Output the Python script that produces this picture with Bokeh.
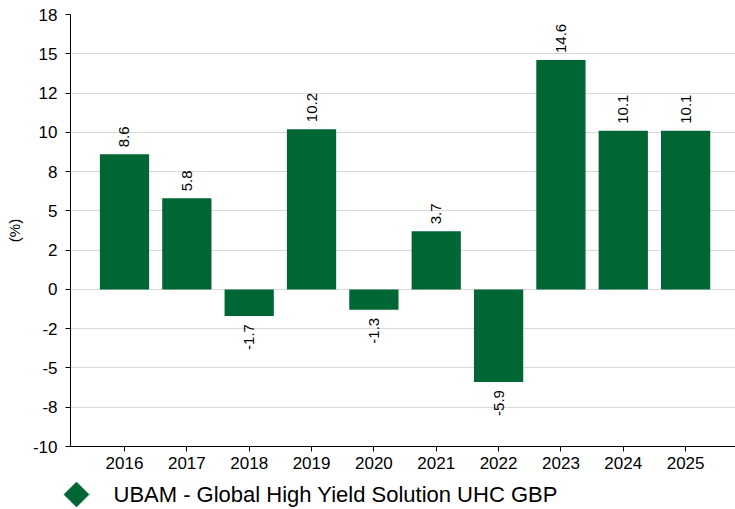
import math
from bokeh.plotting import figure
from bokeh.layouts import column
from bokeh.models import Range1d, FixedTicker, ColumnDataSource
from bokeh.core.properties import value
from bokeh.embed import file_html
from bokeh.resources import INLINE

years = ["2016", "2017", "2018", "2019", "2020", "2021", "2022", "2023", "2024", "2025"]
returns = [8.6, 5.8, -1.7, 10.2, -1.3, 3.7, -5.9, 14.6, 10.1, 10.1]
ytick_values = [17.5, 15, 12.5, 10, 7.5, 5, 2.5, 0, -2.5, -5, -7.5, -10]
ytick_labels = ["18", "15", "12", "10", "8", "5", "2", "0", "-2", "-5", "-8", "-10"]
series_name = "UBAM - Global High Yield Solution UHC GBP"
y_label = "(%)"

GREEN = "#006633"
FONT = "Liberation Sans"

idx = list(range(len(years)))

p = figure(width=735, height=478, output_backend="svg", toolbar_location=None,
           x_range=Range1d(-0.866, len(years) - 1 + 0.80),
           y_range=Range1d(min(ytick_values), max(ytick_values)),
           min_border_left=70, min_border_right=0, min_border_top=14, min_border_bottom=32)
p.outline_line_color = None

p.vbar(x=idx, top=returns, bottom=0, width=0.79, color=GREEN, line_color=None)

pos = ColumnDataSource(dict(x=[i for i, v in zip(idx, returns) if v >= 0],
                            y=[v for v in returns if v >= 0],
                            t=[f"{v:.1f}" for v in returns if v >= 0]))
neg = ColumnDataSource(dict(x=[i for i, v in zip(idx, returns) if v < 0],
                            y=[v for v in returns if v < 0],
                            t=[f"{v:.1f}" for v in returns if v < 0]))
p.text(x="x", y="y", text="t", source=pos, angle=math.pi / 2, text_align="left",
       text_baseline="middle", y_offset=-7, text_font=value(FONT), text_font_size="15px",
       text_color="#000000")
p.text(x="x", y="y", text="t", source=neg, angle=math.pi / 2, text_align="right",
       text_baseline="middle", y_offset=8, text_font=value(FONT), text_font_size="15px",
       text_color="#000000")

# axes
p.xaxis.ticker = FixedTicker(ticks=idx)
p.xaxis.major_label_overrides = {i: y for i, y in zip(idx, years)}
p.yaxis.ticker = FixedTicker(ticks=ytick_values)
p.yaxis.major_label_overrides = {v: l for v, l in zip(ytick_values, ytick_labels)}
for ax in (p.xaxis, p.yaxis):
    ax.axis_line_color = "#000000"
    ax.major_tick_line_color = "#000000"
    ax.major_tick_out = 5
    ax.major_tick_in = 0
    ax.minor_tick_line_color = None
    ax.major_label_text_font = FONT
    ax.major_label_text_font_size = "17px"
    ax.major_label_text_color = "#000000"
p.xaxis.major_label_standoff = 5
p.yaxis.major_label_standoff = 8
p.yaxis.axis_label = y_label
p.yaxis.axis_label_text_font = FONT
p.yaxis.axis_label_text_font_size = "15px"
p.yaxis.axis_label_text_font_style = "normal"
p.yaxis.axis_label_text_color = "#000000"
p.yaxis.axis_label_standoff = 7

p.xgrid.grid_line_color = None
p.ygrid.grid_line_color = "#d9d9d9"
p.ygrid.grid_line_width = 1

# legend strip (coordinates equal page pixels)
lg = figure(width=735, height=31, output_backend="svg", toolbar_location=None,
            x_range=Range1d(0, 735), y_range=Range1d(0, 31),
            x_axis_location=None, y_axis_location=None,
            min_border_left=0, min_border_right=0, min_border_top=0, min_border_bottom=0)
lg.frame_align = False
lg.outline_line_color = None
lg.grid.grid_line_color = None
lg.scatter(x=[76], y=[15], marker="square", angle=math.pi / 4, size=17.5,
           fill_color=GREEN, line_color=GREEN)
lg.text(x=[113], y=[15], text=[series_name], text_align="left", text_baseline="middle",
        text_font=value(FONT), text_font_size="22px", text_color="#000000")

layout = column(p, lg, spacing=0)
open("out.html", "w").write(file_html(layout, INLINE))
